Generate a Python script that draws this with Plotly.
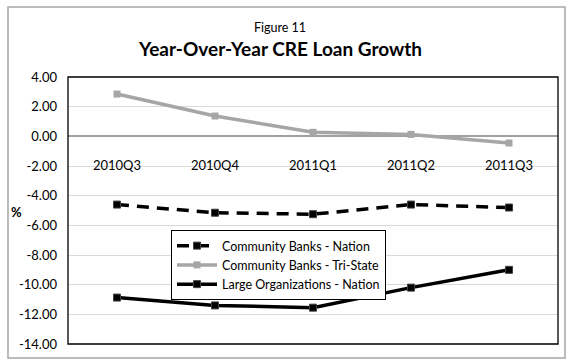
import plotly.graph_objects as go

# Quarterly year-over-year growth in commercial real estate loans (%)
quarters = ["2010Q3", "2010Q4", "2011Q1", "2011Q2", "2011Q3"]
cb_nation = [-4.60, -5.15, -5.25, -4.60, -4.80]
cb_tristate = [2.85, 1.37, 0.27, 0.13, -0.45]
large_nation = [-10.87, -11.40, -11.55, -10.20, -9.00]

y_ticks = [4, 2, 0, -2, -4, -6, -8, -10, -12, -14]
y_min, y_max = -14, 4

FONT = "Lato, 'Open Sans', sans-serif"

fig = go.Figure()

fig.add_trace(go.Scatter(
    x=quarters, y=cb_nation, mode="lines+markers",
    name="Community Banks - Nation",
    line=dict(color="#000000", width=3.5, dash="12px,8px"),
    marker=dict(symbol="square", size=7, color="#000000",
                line=dict(color="#404040", width=1)),
))
fig.add_trace(go.Scatter(
    x=quarters, y=cb_tristate, mode="lines+markers",
    name="Community Banks - Tri-State",
    line=dict(color="#a6a6a6", width=3.5),
    marker=dict(symbol="square", size=7, color="#a6a6a6"),
))
fig.add_trace(go.Scatter(
    x=quarters, y=large_nation, mode="lines+markers",
    name="Large Organizations - Nation",
    line=dict(color="#000000", width=3.5),
    marker=dict(symbol="square", size=7, color="#000000",
                line=dict(color="#404040", width=1)),
))

# plot area: x 68..558 px, y 77..344 px in a 572x364 page
L, R, T, B = 68, 14, 77, 20
W, H = 572, 364
pw, ph = W - L - R, H - T - B

def px(x):
    return (x - L) / pw

def py(y):
    return (H - B - y) / ph

zero_pos = (0 - y_min) / (y_max - y_min)

fig.update_layout(
    width=W, height=H,
    margin=dict(l=L, r=R, t=T, b=B),
    paper_bgcolor="white", plot_bgcolor="white",
    font=dict(family=FONT, size=12, color="#000000"),
    showlegend=True,
    legend=dict(
        x=px(171), y=py(230), xanchor="left", yanchor="top",
        bordercolor="#000000", borderwidth=1, bgcolor="white",
        font=dict(family=FONT, size=12.5, color="#000000"),
        tracegroupgap=0, itemwidth=40,
    ),
    xaxis=dict(
        type="category", categoryorder="array", categoryarray=quarters,
        range=[-0.5, len(quarters) - 0.5],
        anchor="free", position=zero_pos,
        showgrid=False, showline=False, ticks="",
        ticklabelstandoff=20,
        tickfont=dict(family=FONT, size=13),
        fixedrange=True,
    ),
    yaxis=dict(
        range=[y_min, y_max], tickvals=y_ticks,
        ticktext=[f"{v:.2f}" for v in y_ticks],
        showgrid=True, gridcolor="#d9d9d9", gridwidth=1,
        zeroline=True, zerolinecolor="#a0a0a0", zerolinewidth=2,
        showline=False, ticks="", ticklabelstandoff=10,
        tickfont=dict(family=FONT, size=13),
        fixedrange=True,
    ),
    shapes=[
        # plot-area frame
        dict(type="rect", xref="paper", yref="paper", x0=0, x1=1, y0=0, y1=1,
             line=dict(color="#000000", width=1.3), layer="above"),
        # outer chart frame
        dict(type="rect", xref="paper", yref="paper",
             x0=px(8), x1=px(565), y0=py(358), y1=py(7),
             line=dict(color="#a6a6a6", width=1.5)),
    ],
    annotations=[
        dict(text="Figure 11", xref="paper", yref="paper",
             x=px(280), y=py(27), xanchor="center", yanchor="middle",
             showarrow=False, font=dict(family=FONT, size=12.5)),
        dict(text="<b>Year-Over-Year CRE Loan Growth</b>", xref="paper", yref="paper",
             x=px(280), y=py(49), xanchor="center", yanchor="middle",
             showarrow=False, font=dict(family=FONT, size=19)),
        dict(text="<b>%</b>", xref="paper", yref="paper",
             x=px(16), y=py(212), xanchor="center", yanchor="middle",
             showarrow=False, font=dict(family=FONT, size=13)),
    ],
)

fig.write_html("out.html")
